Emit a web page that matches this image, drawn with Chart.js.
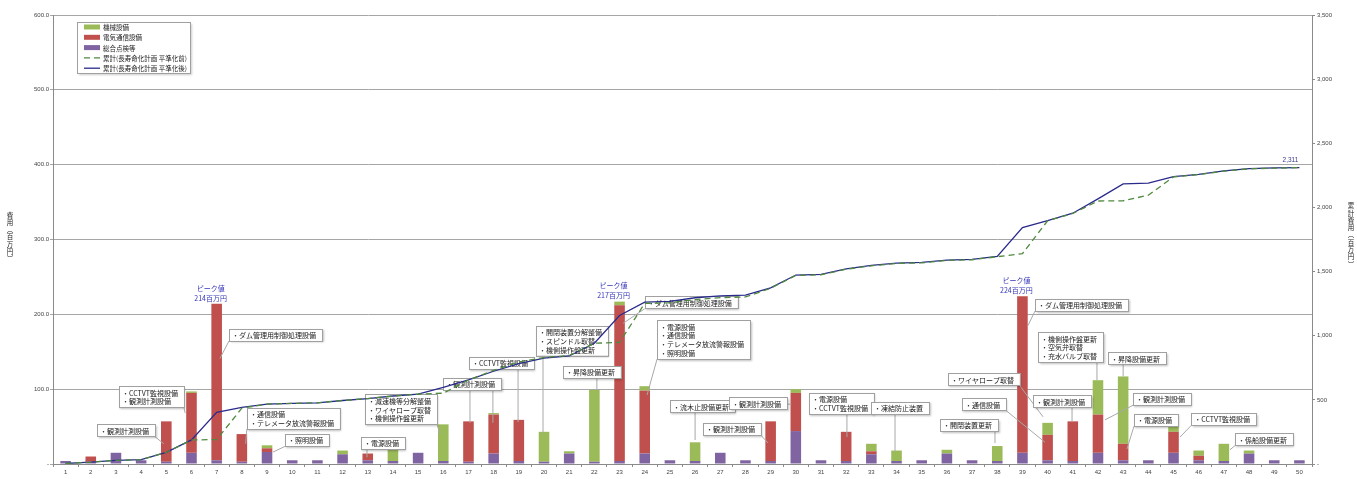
<!DOCTYPE html>
<html lang="ja">
<head>
<meta charset="utf-8">
<title>費用・累計費用</title>
<script src="https://cdn.jsdelivr.net/npm/chart.js@4/dist/chart.umd.min.js"></script>
<style>
  html, body { margin: 0; padding: 0; background: #fff; }
  #wrap { width: 1357px; height: 479px; }
</style>
</head>
<body>
<div id="wrap"><canvas id="costChart" width="1357" height="479"></canvas></div>
<script>
// 年度（経過年）
const years = ['1','2','3','4','5','6','7','8','9','10','11','12','13','14','15','16','17','18','19','20',
  '21','22','23','24','25','26','27','28','29','30','31','32','33','34','35','36','37','38','39','40',
  '41','42','43','44','45','46','47','48','49','50'];

// 費用（百万円）
const inspection = [4,3,15,5,3,15,5,3,16,5, 5,13,5,4,15,4,3,14,4,3, 14,3,4,14,5,4,15,5,4,44,
  5,4,13,4,5,14,5,4,15,5, 4,15,5,5,15,5,4,14,5,5];
const electrical = [0,7,0,0,54,80,209,37,5,0, 0,0,9,0,0,0,54,52,55,0, 0,0,208,84,0,0,0,0,53,51,
  0,39,4,0,0,0,0,0,209,34, 53,51,22,0,28,6,0,0,0,0];
const mechanical = [0,0,0,0,0,2,0,0,4,0, 0,5,0,16,0,49,0,2,0,40, 3,96,5,6,0,25,0,0,0,5,
  0,0,10,14,0,5,0,20,0,16, 0,46,90,0,8,7,23,4,0,0];

// 累計費用（百万円）
const cumBefore = [4,14,29,34,91,188,190,435,467,472, 477,495,510,530,545,552,655,730,795,830,
  846,941,948,1252,1257,1282,1297,1302,1370,1470, 1475,1518,1545,1563,1568,1587,1592,1616,1640,1896,
  1953,2050,2052,2095,2238,2256,2283,2301,2306,2311];
const cumAfter = [4,14,29,34,91,188,402,442,467,472, 477,495,510,530,545,598,655,723,782,825,
  842,941,1158,1262,1267,1296,1311,1316,1373,1473, 1478,1521,1548,1566,1571,1590,1595,1619,1843,1898,
  1955,2067,2184,2189,2240,2258,2285,2303,2308,2311];

const leftTicks = [0, 100, 200, 300, 400, 500, 600];
const rightTicks = [0, 500, 1000, 1500, 2000, 2500, 3000, 3500];

const leftTitle = '費用（百万円）';
const rightTitle = '累計費用（百万円）';

// ピーク値の吹き出し（年度）
const peaks = [7, 23, 39];

// 工事内容の吹き出し： box = 左上 [年度位置, 費用], to = 引出線の先
const notes = [
  { text: ['・観測計測設備'], box: [2.25, 53], to: [[4.9, 27]] },
  { text: ['・CCTVT監視設備', '・観測計測設備'], box: [3.12, 104], to: [[5.75, 68]] },
  { text: ['・ダム管理用制御処理設備'], box: [7.49, 181], to: [[7.13, 141]] },
  { text: ['・通信設備', '・テレメータ放流警報設備'], box: [8.2, 75], to: [[8.15, 27]] },
  { text: ['・照明設備'], box: [9.71, 40], to: [[9.24, 16]] },
  { text: ['・電源設備'], box: [12.73, 36], to: [[12.97, 9]] },
  { text: ['・減速機等分解整備', '・ワイヤロープ取替', '・機側操作盤更新'], box: [12.89, 93], to: [[15.87, 40]] },
  { text: ['・観測計測設備'], box: [15.99, 115], to: [[17.06, 55], [17.97, 55]] },
  { text: ['・CCTVT監視設備'], box: [17.02, 143], to: [[18.97, 56]] },
  { text: ['・開閉装置分解整備', '・スピンドル取替', '・機側操作盤更新'], box: [19.68, 185], to: [[19.96, 41]] },
  { text: ['・昇降設備更新'], box: [20.75, 131], to: [[22.1, 99]] },
  { text: ['・ダム管理用制御処理設備'], box: [24.0, 224], to: [[23.14, 188]] },
  { text: ['・電源設備', '・通信設備', '・テレメータ放流警報設備', '・照明設備'], box: [24.49, 192], to: [[24.09, 92]] },
  { text: ['・流木止設備更新'], box: [25.0, 85], to: [[26.0, 32]] },
  { text: ['・観測計測設備'], box: [26.31, 55], to: [[28.9, 28]] },
  { text: ['・観測計測設備'], box: [27.35, 89], to: [[29.82, 80]] },
  { text: ['・電源設備', '・CCTVT監視設備'], box: [30.52, 95], to: [[32.03, 36]] },
  { text: ['・凍結防止装置'], box: [32.99, 83], to: [[33.94, 16]] },
  { text: ['・ワイヤロープ取替'], box: [36.04, 121], to: [[39.82, 63]] },
  { text: ['・通信設備'], box: [36.6, 88], to: [[39.9, 29]] },
  { text: ['・開閉装置更新'], box: [35.73, 60], to: [[37.91, 28]] },
  { text: ['・ダム管理用制御処理設備'], box: [39.5, 221], to: [[39.22, 185]] },
  { text: ['・機側操作盤更新', '・空気弁取替', '・充水バルブ取替'], box: [39.62, 176], to: [[41.96, 112]] },
  { text: ['・昇降設備更新'], box: [42.4, 149], to: [[43.0, 117]] },
  { text: ['・観測計測設備'], box: [39.42, 92], to: [[40.97, 56]] },
  { text: ['・観測計測設備'], box: [43.39, 95], to: [[42.28, 59]] },
  { text: ['・電源設備'], box: [43.43, 67], to: [[43.15, 20]] },
  { text: ['・CCTVT監視設備'], box: [45.7, 68], to: [[45.26, 36]] },
  { text: ['・係船設備更新'], box: [47.44, 41], to: [[47.24, 19]] }
];

const JP = '"Noto Sans CJK JP", "Noto Sans", sans-serif';
const NUM = '"Liberation Sans", Arial, sans-serif';
const GREEN = '#9bbb59', RED = '#c0504d', PURPLE = '#8064a2';
const DASH_C = '#4f8a3f', SOLID_C = '#2a2a8c';

// 年度位置（1始まり・小数可）→ x ピクセル
function xAt(chart, pos) {
  const s = chart.scales.x;
  const p0 = s.getPixelForValue(0), p1 = s.getPixelForValue(1);
  return p0 + (pos - 1) * (p1 - p0);
}

let notesDrawn = false;

function drawNotes(chart) {
  const ctx = chart.ctx, y = chart.scales.y;
  const lh = 8.8, padX = 3, padR = 6, padY = 1.8;
  ctx.save();
  ctx.font = '7px ' + JP;
  notes.forEach(n => {
    const bx = xAt(chart, n.box[0]), by = y.getPixelForValue(n.box[1]);
    const w = Math.max(...n.text.map(t => ctx.measureText(t).width)) + padX + padR;
    const h = n.text.length * lh + padY * 2;
    // 引出線
    ctx.strokeStyle = '#a8a8a8';
    ctx.lineWidth = 1;
    n.to.forEach(t => {
      const tx = xAt(chart, t[0]), ty = y.getPixelForValue(t[1]);
      const sx = Math.min(Math.max(tx, bx), bx + w);
      const sy = Math.min(Math.max(ty, by), by + h);
      ctx.beginPath();
      ctx.moveTo(sx, sy);
      ctx.lineTo(tx, ty);
      ctx.stroke();
    });
    ctx.save();
    ctx.shadowColor = 'rgba(0,0,0,0.25)';
    ctx.shadowBlur = 2;
    ctx.shadowOffsetX = 1.5;
    ctx.shadowOffsetY = 1.5;
    ctx.fillStyle = '#fff';
    ctx.fillRect(bx, by, w, h);
    ctx.restore();
    ctx.strokeStyle = '#a0a0a0';
    ctx.strokeRect(Math.round(bx) + 0.5, Math.round(by) + 0.5, Math.round(w), Math.round(h));
    ctx.fillStyle = '#1a1a1a';
    ctx.textAlign = 'left';
    ctx.textBaseline = 'middle';
    n.text.forEach((t, i) => ctx.fillText(t, bx + padX, by + padY + lh * (i + 0.5) + 0.5));
  });
  ctx.restore();
}

const annotationPlugin = {
  id: 'annotations',
  beforeDraw() { notesDrawn = false; },
  beforeDatasetDraw(chart, args) {
    if (!notesDrawn && args.meta.type === 'line') {
      drawNotes(chart);
      notesDrawn = true;
    }
  },
  afterDraw(chart) {
    const ctx = chart.ctx, x = chart.scales.x, y = chart.scales.y, y2 = chart.scales.y2;
    ctx.save();

    // ピーク値
    ctx.fillStyle = '#3434b8';
    ctx.font = '7px ' + JP;
    ctx.textAlign = 'center';
    ctx.textBaseline = 'middle';
    peaks.forEach(p => {
      const i = p - 1;
      const total = inspection[i] + electrical[i] + mechanical[i];
      const px = x.getPixelForValue(i) - 6, py = y.getPixelForValue(total);
      ctx.fillText('ピーク値', px, py - 16);
      ctx.fillText(total + '百万円', px, py - 6);
    });

    // 最終累計
    const last = cumAfter.length - 1;
    ctx.fillStyle = '#3a3a8c';
    ctx.font = '6.5px ' + NUM;
    ctx.fillText(cumAfter[last].toLocaleString('en-US'), x.getPixelForValue(last) - 9, y2.getPixelForValue(cumAfter[last]) - 7);

    // 軸タイトル（縦書き）
    const vert = s => Array.from(s.replace('（', '︵').replace('）', '︶'));
    ctx.fillStyle = '#222';
    ctx.font = '6.5px ' + JP;
    const drawVert = (s, cx, cy) => {
      const chars = vert(s), step = 7.3;
      const top = cy - (chars.length - 1) * step / 2;
      chars.forEach((c, k) => ctx.fillText(c, cx, top + k * step));
    };
    drawVert(leftTitle, 10, 237);
    drawVert(rightTitle, 1351, 235);

    // 凡例
    const lx = 77, ly = 22, lw = 113, lhgt = 51;
    ctx.save();
    ctx.shadowColor = 'rgba(0,0,0,0.2)';
    ctx.shadowBlur = 2;
    ctx.shadowOffsetX = 1.5;
    ctx.shadowOffsetY = 1.5;
    ctx.fillStyle = '#fff';
    ctx.fillRect(lx, ly, lw, lhgt);
    ctx.restore();
    ctx.strokeStyle = '#a0a0a0';
    ctx.lineWidth = 1;
    ctx.strokeRect(lx + 0.5, ly + 0.5, lw, lhgt);
    const ds = chart.data.datasets;
    const order = [2, 1, 0, 3, 4];
    ctx.textAlign = 'left';
    order.forEach((di, k) => {
      const d = ds[di], ry = ly + 5 + k * 10.3;
      if (d.type === 'line') {
        ctx.strokeStyle = d.borderColor;
        ctx.lineWidth = 1.3;
        ctx.setLineDash(d.borderDash || []);
        ctx.beginPath();
        ctx.moveTo(84, ry);
        ctx.lineTo(100, ry);
        ctx.stroke();
        ctx.setLineDash([]);
      } else {
        ctx.fillStyle = d.backgroundColor;
        ctx.fillRect(84, ry - 2.5, 16, 5);
      }
      ctx.fillStyle = '#222';
      ctx.fillText(d.label, 103, ry + 0.5);
    });
    ctx.restore();
  }
};

const tickFont = { size: 6, family: NUM };

new Chart(document.getElementById('costChart'), {
  type: 'bar',
  data: {
    labels: years,
    datasets: [
      { label: '総合点検等', data: inspection, backgroundColor: PURPLE, stack: 'cost', order: 1 },
      { label: '電気通信設備', data: electrical, backgroundColor: RED, stack: 'cost', order: 1 },
      { label: '機械設備', data: mechanical, backgroundColor: GREEN, stack: 'cost', order: 1 },
      { type: 'line', label: '累計(長寿命化計画 平準化前)', data: cumBefore, yAxisID: 'y2',
        borderColor: DASH_C, borderWidth: 1.3, borderDash: [6, 4], pointRadius: 0, tension: 0, order: 0 },
      { type: 'line', label: '累計(長寿命化計画 平準化後)', data: cumAfter, yAxisID: 'y2',
        borderColor: SOLID_C, borderWidth: 1.3, pointRadius: 0, tension: 0, order: 0 }
    ]
  },
  options: {
    responsive: false,
    animation: false,
    layout: { padding: { top: 15, left: 0, right: 0, bottom: 0 } },
    datasets: { bar: { barPercentage: 0.42, categoryPercentage: 1 } },
    plugins: { legend: { display: false }, tooltip: { enabled: false } },
    scales: {
      x: {
        stacked: true,
        grid: { drawOnChartArea: false, drawTicks: true, tickLength: 3, color: '#8a8a8a', offset: true },
        border: { color: '#8a8a8a' },
        ticks: { font: tickFont, color: '#444', padding: 2, maxRotation: 0, autoSkip: false },
        afterFit: s => { s.height = 15; }
      },
      y: {
        stacked: true,
        min: leftTicks[0],
        max: leftTicks[leftTicks.length - 1],
        afterBuildTicks: s => { s.ticks = leftTicks.map(v => ({ value: v })); },
        grid: { color: '#a6a6a6', tickLength: 3 },
        border: { color: '#8a8a8a' },
        ticks: { font: tickFont, color: '#444', padding: 1, callback: v => v === 0 ? '-' : v.toFixed(1) },
        afterFit: s => { s.width = 53; }
      },
      y2: {
        position: 'right',
        min: rightTicks[0],
        max: rightTicks[rightTicks.length - 1],
        afterBuildTicks: s => { s.ticks = rightTicks.map(v => ({ value: v })); },
        grid: { drawOnChartArea: false, tickLength: 3, color: '#8a8a8a' },
        border: { color: '#8a8a8a' },
        ticks: { font: tickFont, color: '#444', padding: 2, callback: v => v === 0 ? '-' : v.toLocaleString('en-US') },
        afterFit: s => { s.width = 45; }
      }
    }
  },
  plugins: [annotationPlugin]
});
</script>
</body>
</html>
